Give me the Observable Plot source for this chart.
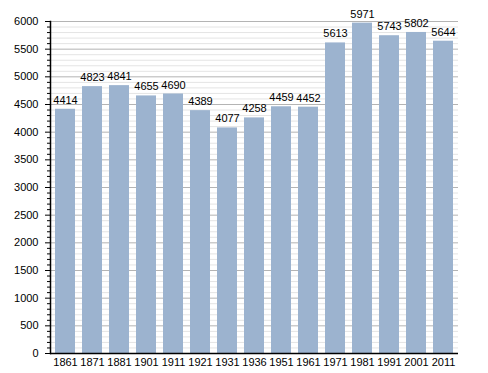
<!DOCTYPE html>
<html><head><meta charset="utf-8">
<script src="https://cdn.jsdelivr.net/npm/d3@7"></script>
<script src="https://cdn.jsdelivr.net/npm/@observablehq/plot@0.6"></script>
<style>body{margin:0;background:#fff}</style>
</head><body><div id="chart"></div>
<script>
const years = ["1861","1871","1881","1901","1911","1921","1931","1936","1951","1961","1971","1981","1991","2001","2011"];
const population = [4414,4823,4841,4655,4690,4389,4077,4258,4459,4452,5613,5971,5743,5802,5644];
const majorTicks = d3.range(0, 6001, 500);
const minorTicks = d3.range(0, 6001, 100).filter(v => v % 500 !== 0);

const data = years.map((y, i) => ({year: y, value: population[i]}));

const chart = Plot.plot({
  width: 488, height: 373,
  marginLeft: 50, marginRight: 30, marginTop: 21, marginBottom: 20,
  style: {fontFamily: "'Liberation Sans', Arial, sans-serif", fontSize: "11px", color: "#000", background: "#fff"},
  x: {domain: years, paddingInner: 0.25, paddingOuter: 0.03, label: null},
  y: {domain: [0, 6000], label: null},
  marks: [
    Plot.ruleY(minorTicks, {stroke: "#e4e4e4", strokeWidth: 1}),
    Plot.ruleY(majorTicks, {stroke: "#b4b4b4", strokeWidth: 1}),
    Plot.barY(data, {x: "year", y: "value", fill: "#9cb3cf"}),
    Plot.text(data, {x: "year", y: "value", text: d => String(d.value), dy: -9, fontSize: 11, fill: "#000"}),
    Plot.axisY({ticks: minorTicks, tickSize: 3, tickFormat: () => "", stroke: "#000"}),
    Plot.axisY({ticks: majorTicks, tickSize: 5, tickPadding: 7, tickFormat: d => String(d), fontSize: 11, fill: "#000"}),
    Plot.axisX({tickSize: 0, tickPadding: 5, fontSize: 11, fill: "#000"}),
    Plot.frame({anchor: "left", stroke: "#000", strokeWidth: 1.5}),
    Plot.ruleY([0], {stroke: "#000", strokeWidth: 1.5})
  ]
});
document.getElementById("chart").appendChild(chart);
</script>
</body></html>
